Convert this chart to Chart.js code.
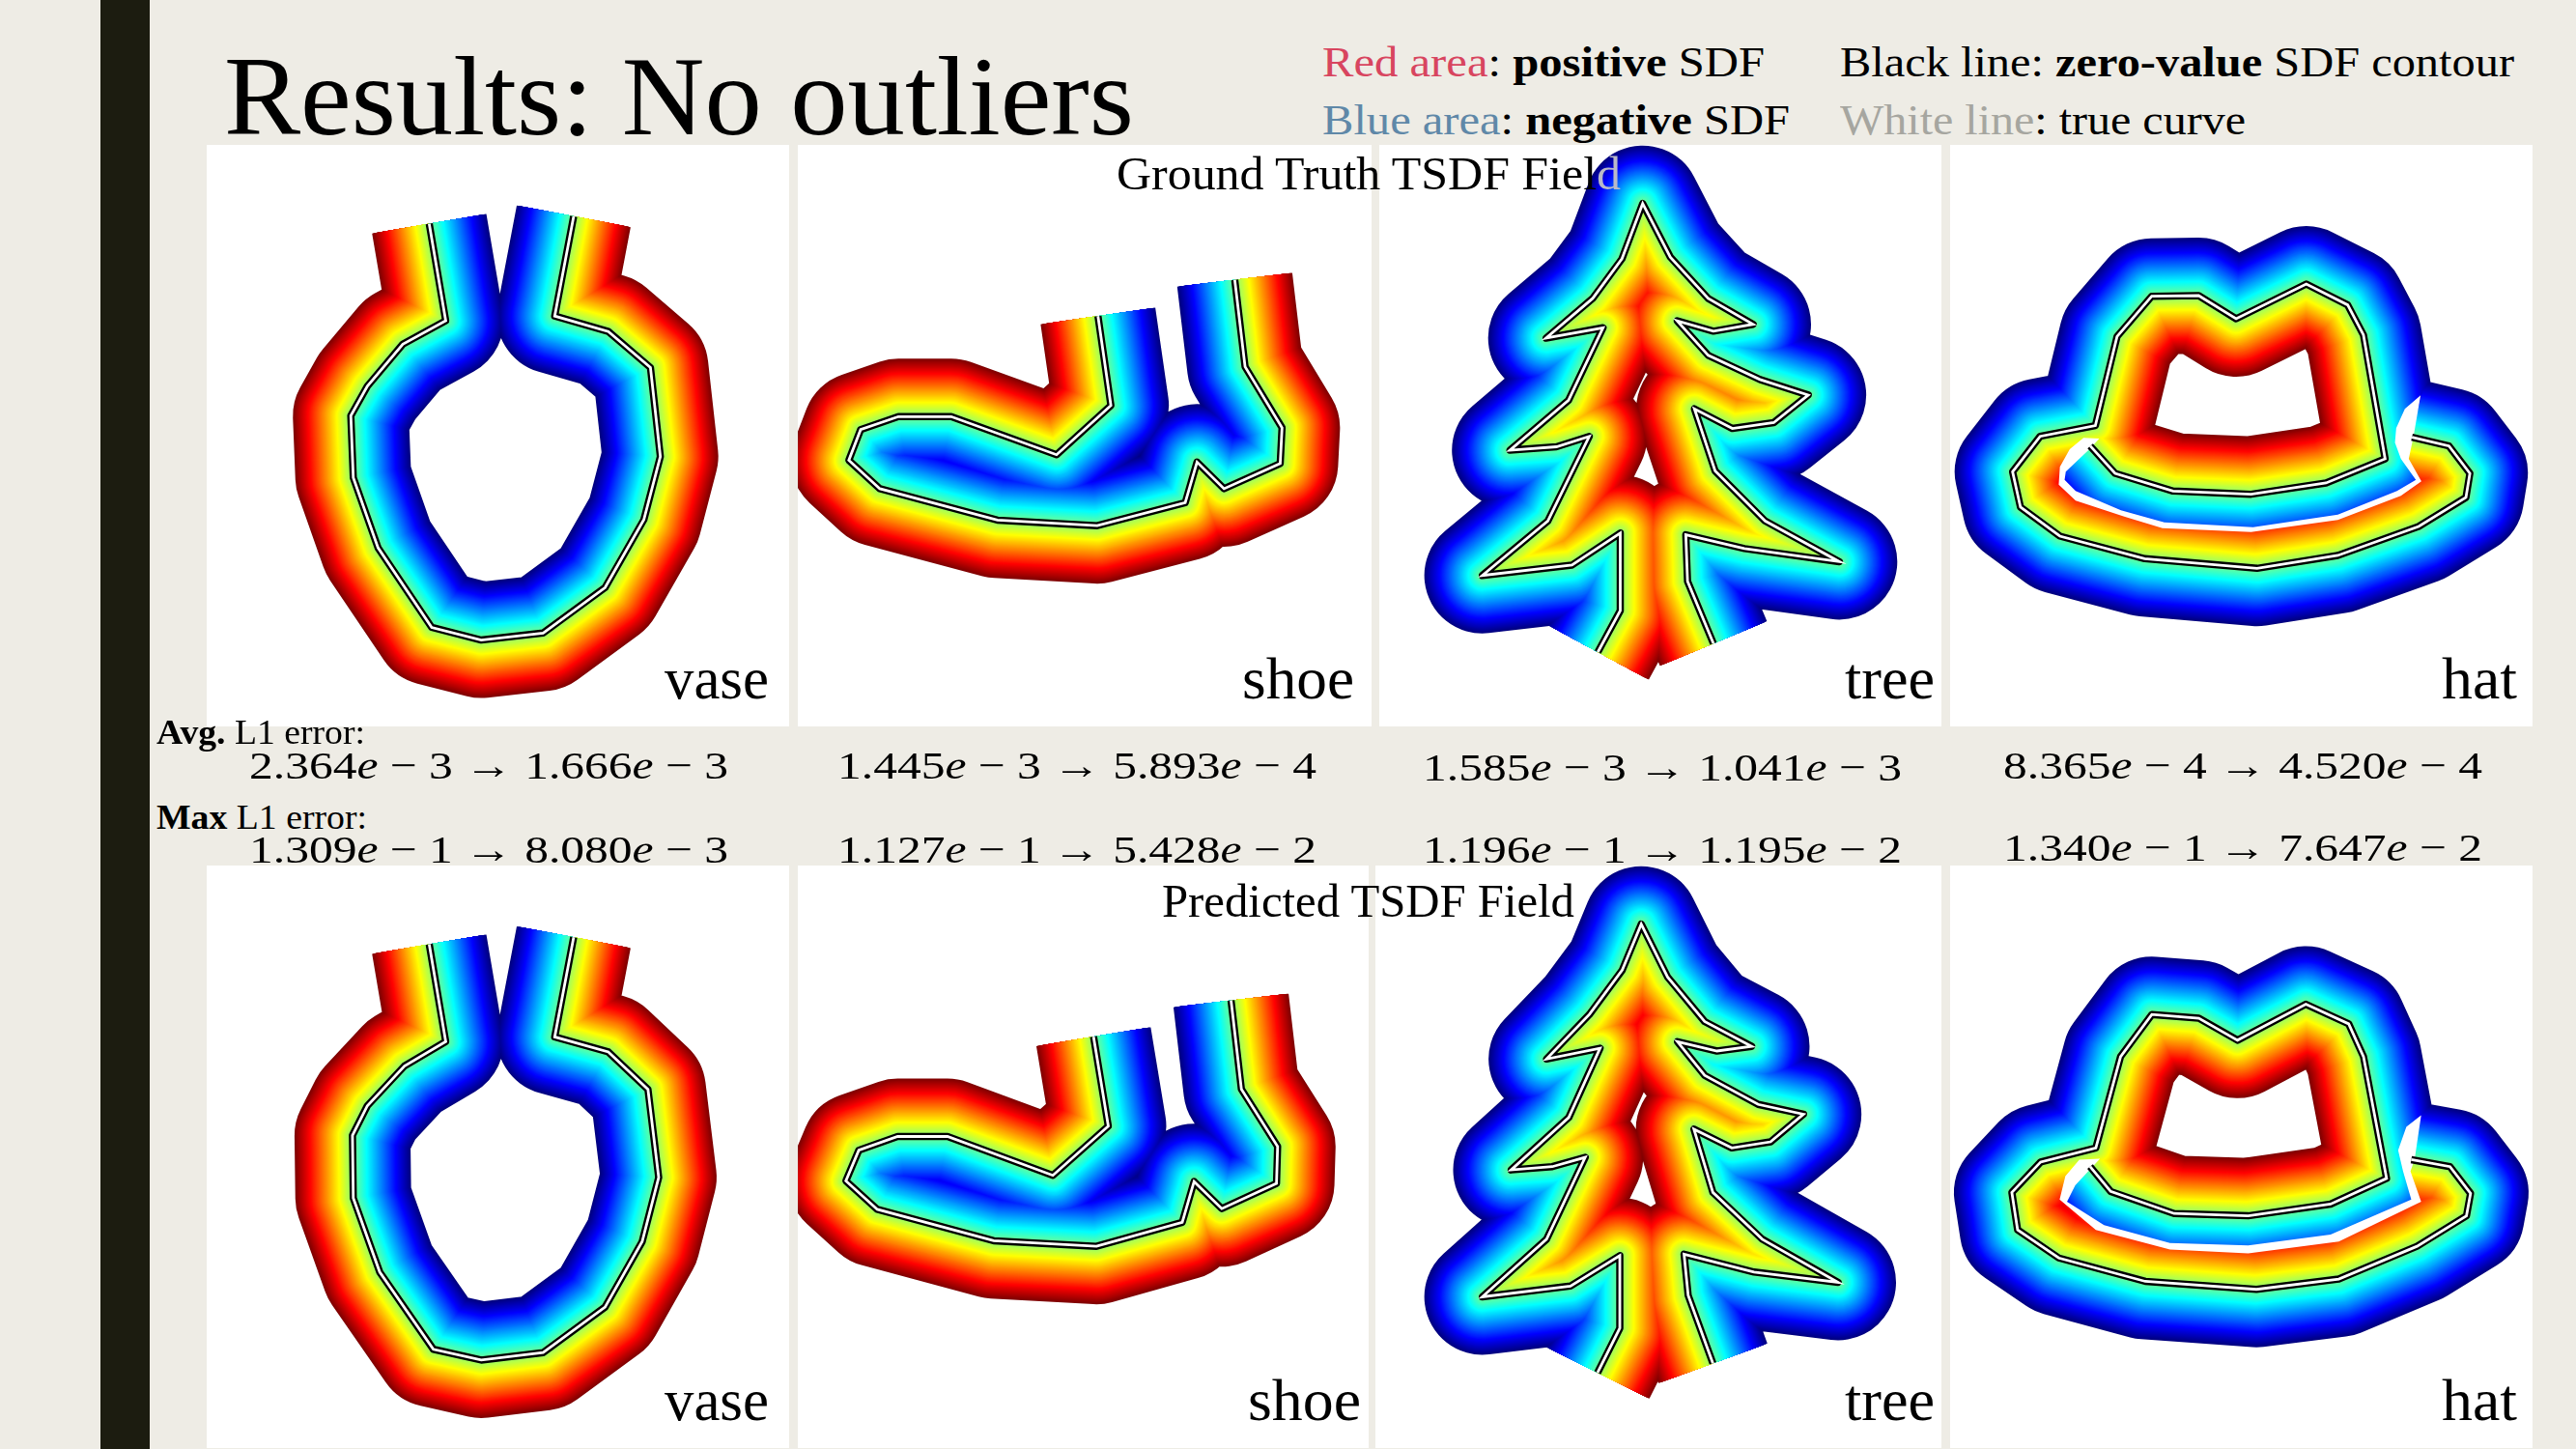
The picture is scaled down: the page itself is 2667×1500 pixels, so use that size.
<!DOCTYPE html>
<html>
<head>
<meta charset="utf-8">
<title>Results: No outliers</title>
<script src="https://cdn.jsdelivr.net/npm/chart.js@4/dist/chart.umd.min.js"></script>
<style>
html, body { margin: 0; padding: 0; width: 2667px; height: 1500px; overflow: hidden; background: #eeece5; }
#bar { position: absolute; left: 104px; top: 0; width: 51px; height: 1500px; background: #1c1c10; }
canvas { position: absolute; background: #fff; }
.t { position: absolute; white-space: nowrap; font-family: "Liberation Serif", serif; line-height: 1.107; color: #000; transform-origin: left top; z-index: 5; }
</style>
</head>
<body>
<div id="bar"></div>
<script>
// Contornos (unidades do recorte usado em cada forma)
const shapeNames = ['vase', 'shoe', 'tree', 'hat'];

const vaseTruth = [[520,478],[540,685],[488,735],[445,825],[425,888],[428,1020],[458,1170],[523,1340],[583,1367],[658,1352],[733,1255],[780,1110],[800,975],[788,785],[737,708],[672,675],[695,462]];
const vaseTruthClose = [[606,100]];
const vasePred = [[520,490],[540,698],[490,750],[445,835],[427,898],[428,1032],[460,1190],[525,1355],[583,1378],[658,1362],[733,1265],[778,1125],[798,988],[785,800],[737,720],[672,688],[695,475]];
const vasePredClose = [[606,100]];

const shoeTruth = [[812,463],[847,705],[700,838],[415,735],[272,735],[170,770],[138,853],[222,930],[540,1015],[810,1030],[1048,968],[1080,858],[1153,930],[1305,862],[1310,765],[1210,600],[1182,365]];
const shoeTruthClose = [[1000,60]];
const shoePred = [[800,463],[840,705],[690,838],[405,733],[270,733],[165,770],[130,853],[215,930],[530,1015],[808,1030],[1040,965],[1072,855],[1147,928],[1295,860],[1298,760],[1200,605],[1172,365]];
const shoePredClose = [[990,60]];

const treeTruth = [[600,1470],[665,1350],[665,1125],[525,1218],[265,1248],[455,1090],[575,845],[480,875],[345,885],[515,740],[615,530],[450,560],[585,445],[670,330],[730,170],[810,325],[920,445],[1050,520],[935,540],[830,510],[920,610],[1070,680],[1210,725],[1110,805],[990,822],[880,765],[940,945],[1085,1090],[1300,1208],[1025,1170],[855,1130],[860,1265],[935,1445]];
const treeTruthClose = [[760,1950]];
const treePred = [[380,1405],[407,1310],[407,1155],[347,1220],[240,1243],[318,1120],[365,945],[325,965],[275,972],[345,860],[383,712],[318,735],[370,640],[410,545],[433,447],[465,560],[510,655],[567,708],[525,718],[477,698],[510,770],[575,832],[630,853],[590,912],[543,925],[497,885],[520,1020],[580,1120],[672,1212],[570,1190],[485,1152],[490,1240],[520,1385]];
const treePredClose = [[450,1750]];

const hatTruth = [[1218,908],[1312,935],[1365,1020],[1355,1095],[1235,1185],[1030,1275],[825,1315],[540,1285],[325,1215],[225,1125],[205,1015],[275,905],[415,872],[470,595],[558,470],[677,468],[772,540],[950,432],[1055,497],[1095,590],[1150,975],[1000,1050],[810,1085],[612,1075],[465,1020],[402,935]];
const hatTruthClose = [[370,945],[335,1005],[330,1050],[365,1090],[485,1145],[588,1180],[812,1195],[1030,1157],[1185,1083],[1235,1043],[1205,975]];
const hatTruthGap = [[425,912],[385,910],[350,945],[325,1000],[322,1055],[365,1105],[490,1155],[585,1190],[810,1202],[1030,1165],[1190,1090],[1242,1045],[1210,975],[1222,905],[1240,778],[1200,820],[1178,880],[1175,925],[1190,975],[1228,1040],[1180,1075],[1030,1148],[815,1187],[590,1172],[480,1135],[365,1075],[337,1040],[340,1015],[400,945]];
const hatPred = [[1368,950],[1415,965],[1440,1022],[1435,1070],[1375,1135],[1280,1205],[1180,1227],[1045,1210],[940,1160],[890,1100],[883,1020],[918,955],[985,925],[1015,730],[1053,640],[1110,648],[1157,695],[1240,618],[1292,660],[1310,730],[1338,990],[1270,1045],[1170,1070],[1080,1065],[1003,1018],[978,965]];
const hatPredClose = [[950,990],[945,1035],[985,1095],[1075,1135],[1170,1141],[1270,1117],[1374,1040],[1362,975]];
const hatPredGap = [[990,948],[965,950],[948,985],[941,1035],[985,1100],[1075,1142],[1170,1150],[1280,1125],[1380,1040],[1367,975],[1372,950],[1380,855],[1362,880],[1352,930],[1358,975],[1368,1035],[1270,1110],[1170,1133],[1075,1128],[995,1090],[950,1040],[960,1005]];

// Erros L1
const avgBefore = ['2.364', '1.445', '1.585', '8.365'];
const avgBeforeExp = ['3', '3', '3', '4'];
const avgAfter = ['1.666', '5.893', '1.041', '4.520'];
const avgAfterExp = ['3', '4', '3', '4'];
const maxBefore = ['1.309', '1.127', '1.196', '1.340'];
const maxBeforeExp = ['1', '1', '1', '1'];
const maxAfter = ['8.080', '5.428', '1.195', '7.647'];
const maxAfterExp = ['3', '2', '2', '2'];

const BAND = 60; // meia largura do campo truncado, px

// Recortes em que cada contorno foi lido
const Z1 = { x0: 0, y0: 0, sx: 1568 / 1340, sy: 1568 / 760 };
const Z3 = { x0: 0, y0: 740, sx: 1568 / 1340, sy: 1568 / 760 };
const Z4 = { x0: 1330, y0: 740, sx: 1568 / 1337, sy: 1568 / 760 };
const Z5 = { x0: 2000, y0: 150, sx: 2.45, sy: 3 };
const Z6 = { x0: 1440, y0: 150, sx: 2.8, sy: 2.8 };
const Z7 = { x0: 826, y0: 150, sx: 2.613, sy: 2.613 };
const Z8 = { x0: 826, y0: 896, sx: 2.613, sy: 2.613 };

const panels = [
    { rect: [214, 150, 603, 602], frame: Z1, line: vaseTruth, close: vaseTruthClose, insideRed: false },
    { rect: [826, 150, 594, 602], frame: Z7, line: shoeTruth, close: shoeTruthClose, insideRed: false },
    { rect: [1428, 150, 582, 602], frame: Z6, line: treeTruth, close: treeTruthClose, insideRed: true },
    { rect: [2019, 150, 603, 602], frame: Z5, line: hatTruth, close: hatTruthClose, gap: hatTruthGap, insideRed: true },
    { rect: [214, 896, 603, 603], frame: Z3, line: vasePred, close: vasePredClose, insideRed: false },
    { rect: [826, 896, 591, 603], frame: Z8, line: shoePred, close: shoePredClose, insideRed: false },
    { rect: [1424, 896, 586, 603], frame: Z4, line: treePred, close: treePredClose, insideRed: true },
    { rect: [2019, 896, 603, 603], frame: Z4, line: hatPred, close: hatPredClose, gap: hatPredGap, insideRed: true }
];

// Colormap jet
const jet = (t) => {
    const ch = (c) => Math.round(255 * Math.max(0, Math.min(1, 1.5 - Math.abs(4 * t - c))));
    return `rgb(${ch(3)},${ch(2)},${ch(1)})`;
};

const toPoints = (arr) => arr.map(p => ({ x: p[0], y: p[1] }));

// Recorta cada camada ao lado certo do contorno
const sidePlugin = {
    id: 'sideClip',
    beforeDatasetDraw(chart, args) {
        const ds = chart.data.datasets[args.index];
        if (!ds.clipPoly) return;
        const { ctx, scales } = chart;
        ctx.save();
        ctx.beginPath();
        if (ds.clipOutside) ctx.rect(0, 0, chart.width, chart.height);
        ds.clipPoly.forEach((p, i) => {
            const px = scales.x.getPixelForValue(p[0]);
            const py = scales.y.getPixelForValue(p[1]);
            if (i === 0) ctx.moveTo(px, py);
            else ctx.lineTo(px, py);
        });
        ctx.closePath();
        ctx.clip('evenodd');
    },
    afterDatasetDraw(chart, args) {
        if (chart.data.datasets[args.index].clipPoly) chart.ctx.restore();
    }
};

function buildDatasets(panel) {
    const points = toPoints(panel.line);
    const poly = panel.line.concat(panel.close);
    const list = [];
    const base = { data: points, showLine: true, pointRadius: 0, tension: 0, borderCapStyle: 'butt', borderJoinStyle: 'round' };

    for (let d = BAND; d >= 1; d--) {
        const t = 0.5 * d / BAND;
        list.push({ ...base, borderWidth: 2 * d, borderColor: jet(panel.insideRed ? 0.5 - t : 0.5 + t), clipPoly: poly, clipOutside: true });
    }
    for (let d = BAND; d >= 1; d--) {
        const t = 0.5 * d / BAND;
        list.push({ ...base, borderWidth: 2 * d, borderColor: jet(panel.insideRed ? 0.5 + t : 0.5 - t), clipPoly: poly, clipOutside: false });
    }
    if (panel.gap) {
        list.push({ ...base, data: toPoints(panel.gap.concat([panel.gap[0]])), borderWidth: 70, borderColor: '#fff', clipPoly: panel.gap, clipOutside: false });
    }
    list.push({ ...base, borderWidth: 7.5, borderColor: '#000' });
    list.push({ ...base, borderWidth: 2.8, borderColor: '#fff', borderJoinStyle: 'miter' });

    // o índice 0 é desenhado por cima
    return list.reverse();
}

panels.forEach(panel => {
    const [left, top, w, h] = panel.rect;
    const f = panel.frame;
    const cv = document.createElement('canvas');
    cv.width = w;
    cv.height = h;
    cv.style.left = left + 'px';
    cv.style.top = top + 'px';
    document.body.appendChild(cv);

    new Chart(cv, {
        type: 'scatter',
        data: { datasets: buildDatasets(panel) },
        plugins: [sidePlugin],
        options: {
            responsive: false,
            animation: false,
            devicePixelRatio: 1,
            events: [],
            layout: { padding: 0 },
            plugins: { legend: { display: false }, tooltip: { enabled: false } },
            scales: {
                x: { type: 'linear', display: false, min: (left - f.x0) * f.sx, max: (left + w - f.x0) * f.sx },
                y: { type: 'linear', display: false, reverse: true, min: (top - f.y0) * f.sy, max: (top + h - f.y0) * f.sy }
            }
        }
    });
});

// Texto: x, linha de base, largura alvo, corpo, html
function addText(x, baseline, width, size, html) {
    const el = document.createElement('div');
    el.className = 't';
    el.style.left = x + 'px';
    el.style.top = (baseline + 1 - 0.891 * size) + 'px';
    el.style.fontSize = size + 'px';
    el.innerHTML = html;
    document.body.appendChild(el);
    el.style.transform = `scaleX(${width / el.getBoundingClientRect().width})`;
}

const formatError = (a, ae, b, be) => `${a}<i>e</i> − ${ae} → ${b}<i>e</i> − ${be}`;

addText(232, 138, 942, 116, 'Results: No outliers');
addText(1369, 79, 458, 45, '<span style="color:#d8455f">Red area</span>: <b>positive</b> SDF');
addText(1369, 139.5, 484, 45, '<span style="color:#5f88a8">Blue area</span>: <b>negative</b> SDF');
addText(1905, 79, 698, 45, 'Black line: <b>zero-value</b> SDF contour');
addText(1905, 139.5, 420, 45, '<span style="color:#a6a6a0">White line</span>: true curve');
addText(1156, 195, 522, 48, 'Ground Truth TSDF Fiel<span style="color:#b9b9c8">d</span>');
addText(1203, 947.5, 427, 48, 'Predicted TSDF Field');

const labelX = [[688, 108], [1286, 116], [1910, 93], [2528, 78]];
const labelXBottom = [[688, 108], [1292, 117], [1910, 93], [2528, 78]];
shapeNames.forEach((name, i) => {
    addText(labelX[i][0], 722, labelX[i][1], 62, name);
    addText(labelXBottom[i][0], 1469, labelXBottom[i][1], 62, name);
});

addText(162, 770, 216, 35, '<b>Avg.</b> L1 error:');
addText(162, 858, 218, 35, '<b>Max</b> L1 error:');

const rowX = [258, 867, 1473, 2074];
const avgBase = [805.5, 805.5, 808, 805.5];
const maxBase = [893, 893, 893, 891];
rowX.forEach((x, i) => {
    addText(x, avgBase[i], 496, 41, formatError(avgBefore[i], avgBeforeExp[i], avgAfter[i], avgAfterExp[i]));
    addText(x, maxBase[i], 496, 41, formatError(maxBefore[i], maxBeforeExp[i], maxAfter[i], maxAfterExp[i]));
});
</script>
</body>
</html>
